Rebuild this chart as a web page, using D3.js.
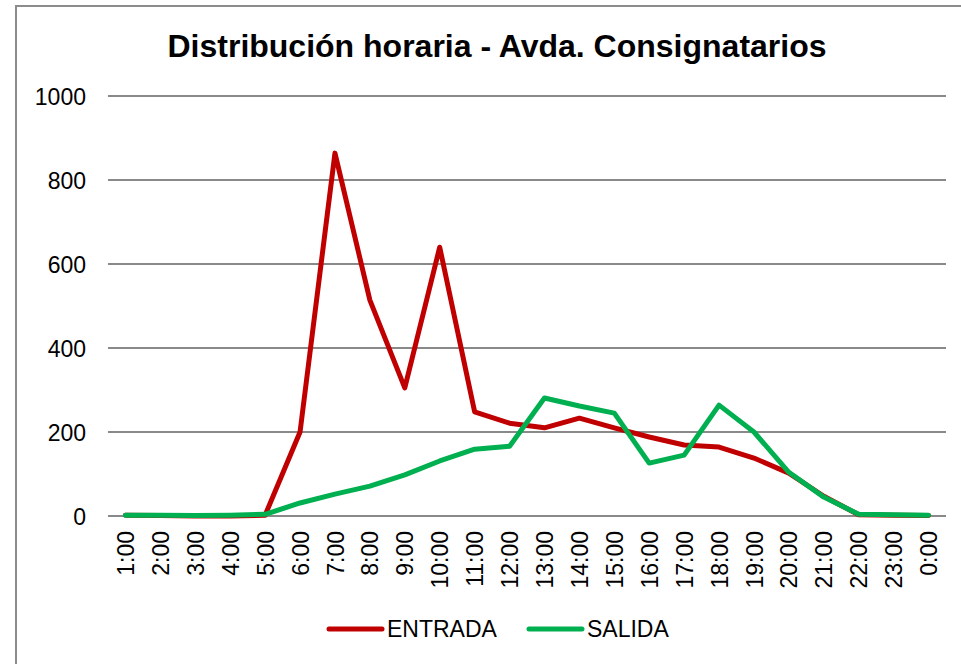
<!DOCTYPE html>
<html>
<head>
<meta charset="utf-8">
<script src="https://cdn.jsdelivr.net/npm/d3@7/dist/d3.min.js"></script>
<style>
  html, body { margin: 0; padding: 0; background: #fff; }
  svg { display: block; }
  text { font-family: "Liberation Sans", Arial, sans-serif; fill: #000; }
</style>
</head>
<body>
<svg id="chart" width="961" height="664"></svg>
<script>
// Hourly traffic counts
const hours = ["1:00","2:00","3:00","4:00","5:00","6:00","7:00","8:00","9:00","10:00","11:00","12:00",
               "13:00","14:00","15:00","16:00","17:00","18:00","19:00","20:00","21:00","22:00","23:00","0:00"];
const entrada = [2, 1, 0, 0, 2, 200, 864, 514, 305, 640, 248, 221, 210, 233, 210, 188, 169, 164, 138, 102, 47, 3, 2, 1];
const salida  = [2, 2, 1, 2, 4, 31, 52, 71, 98, 131, 159, 166, 281, 262, 245, 126, 145, 264, 200, 104, 45, 4, 3, 2];
const yTicks = [0, 200, 400, 600, 800, 1000];
const seriesNames = ["ENTRADA", "SALIDA"];
const seriesColors = ["#C00000", "#00B050"];

const svg = d3.select("#chart");
const fontFamily = '"Liberation Sans", Arial, sans-serif';

// Outer chart frame
svg.append("rect")
  .attr("x", 16).attr("y", 6)
  .attr("width", 980).attr("height", 700)
  .attr("fill", "none").attr("stroke", "#8c8c8c").attr("stroke-width", 2);

const plot = { left: 108, right: 946, top: 96, bottom: 516 };

const x = d3.scalePoint().domain(hours).range([plot.left, plot.right]).padding(0.5);
const y = d3.scaleLinear().domain([0, 1000]).range([plot.bottom, plot.top]);

// Title
svg.append("text")
  .attr("x", 497).attr("y", 57)
  .attr("text-anchor", "middle")
  .style("font-size", "32px").style("font-weight", "bold")
  .text("Distribución horaria - Avda. Consignatarios");

// Horizontal gridlines
svg.append("g")
  .selectAll("line")
  .data(yTicks)
  .join("line")
  .attr("x1", plot.left).attr("x2", plot.right)
  .attr("y1", d => y(d)).attr("y2", d => y(d))
  .attr("stroke", "#898989").attr("stroke-width", 2);

// Y axis labels
const yAxis = d3.axisLeft(y).tickValues(yTicks).tickFormat(d3.format("d")).tickSize(0).tickPadding(0);
const gy = svg.append("g").attr("transform", `translate(${plot.left - 22},0)`).call(yAxis);
gy.select(".domain").remove();
gy.selectAll("text")
  .style("font-family", fontFamily)
  .style("font-size", "23px").attr("fill", "#000").attr("dy", "0.35em");

// X axis labels (rotated)
const xAxis = d3.axisBottom(x).tickSize(0).tickPadding(0);
const gx = svg.append("g").attr("transform", `translate(0,${plot.bottom})`).call(xAxis);
gx.select(".domain").remove();
gx.selectAll("text")
  .style("font-family", fontFamily)
  .style("font-size", "23px").attr("fill", "#000")
  .attr("text-anchor", "end")
  .attr("transform", "rotate(-90)")
  .attr("x", -15).attr("y", 0).attr("dy", "0.35em");

// Series lines
const line = d3.line().x((d, i) => x(hours[i])).y(d => y(d));
[entrada, salida].forEach((vals, k) => {
  svg.append("path")
    .datum(vals)
    .attr("d", line)
    .attr("fill", "none")
    .attr("stroke", seriesColors[k])
    .attr("stroke-width", 5)
    .attr("stroke-linejoin", "round")
    .attr("stroke-linecap", "round");
});

// Legend
const legendX = [329, 529];
seriesNames.forEach((name, k) => {
  const g = svg.append("g").attr("transform", `translate(${legendX[k]},629)`);
  g.append("line").attr("x1", 0).attr("x2", 53).attr("y1", 0).attr("y2", 0)
    .attr("stroke", seriesColors[k]).attr("stroke-width", 5).attr("stroke-linecap", "round");
  g.append("text").attr("x", 58).attr("y", 0).attr("dy", "0.35em")
    .style("font-size", "23px").text(name);
});
</script>
</body>
</html>
